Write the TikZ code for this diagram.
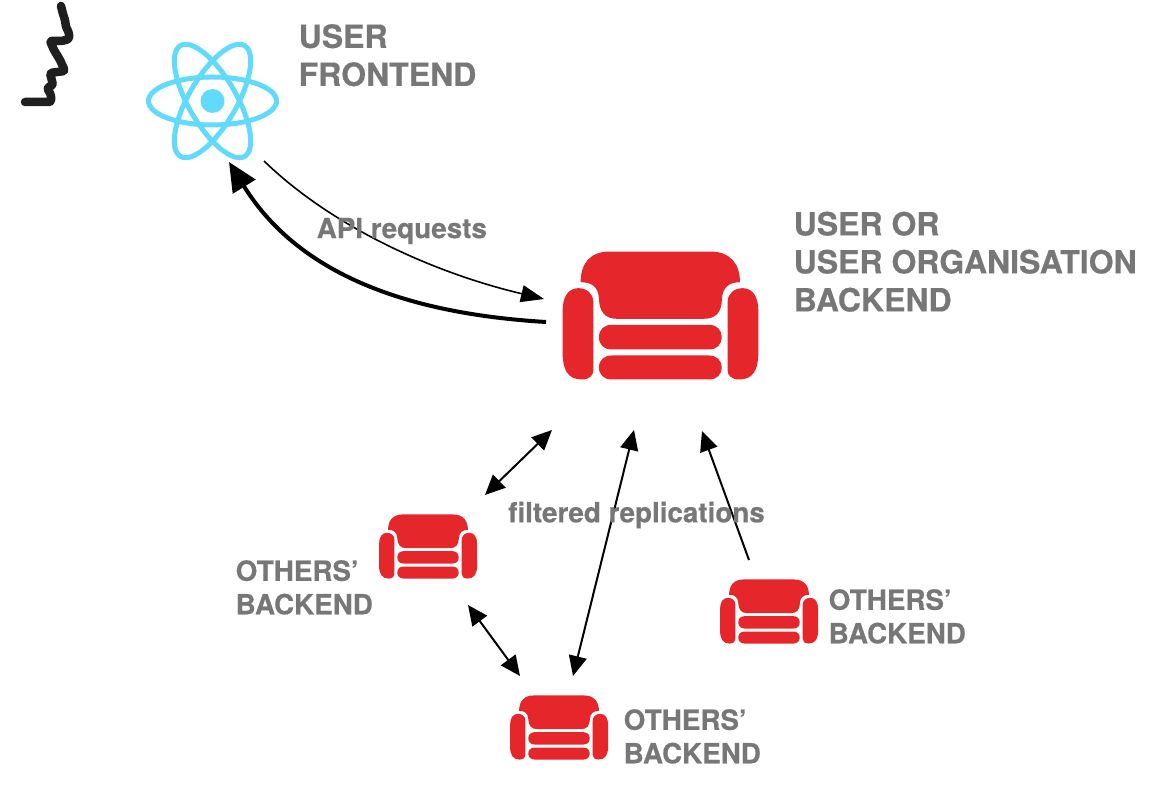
\documentclass[tikz,border=0pt]{standalone}
\usepackage{fontspec}
\setmainfont[BoldFeatures={FakeBold=0.5}]{TeX Gyre Heros}
\usetikzlibrary{arrows.meta}
\definecolor{couchred}{HTML}{E5262B}
\definecolor{reactblue}{HTML}{61DAFB}
\definecolor{labelgray}{HTML}{777777}
\tikzset{
  biglabel/.style={anchor=north west,align=left,inner sep=0pt,text=labelgray,font=\fontsize{32}{38}\selectfont\bfseries},
  smalllabel/.style={anchor=north west,align=left,inner sep=0pt,text=labelgray,font=\fontsize{27.8}{33.5}\selectfont\bfseries},
  midlabel/.style={anchor=west,inner sep=0pt,text=labelgray,font=\fontsize{27.8}{30}\selectfont\bfseries},
  thinarrow/.style={draw=black,line width=1.6pt,-{Triangle[length=23pt,width=17pt]}},
  thickarrow/.style={draw=black,line width=4pt,-{Triangle[length=29pt,width=26pt]}},
  replarrow/.style={draw=black,line width=2pt,{Triangle[length=20pt,width=18pt]}-{Triangle[length=20pt,width=18pt]}},
  replone/.style={draw=black,line width=2pt,-{Triangle[length=20pt,width=18pt]}},
  orbit/.style={draw=reactblue,line width=5pt},
  pics/couch/.style={code={
    \begin{scope}[shift={(-361,-256)}]
    \fill[couchred] (122,156) .. controls (122,100) and (150,64) .. (210,64)
      -- (510,64) .. controls (570,64) and (600,100) .. (600,156)
      .. controls (570,156) and (548,170) .. (546,205)
      .. controls (545,245) and (530,266) .. (490,266) -- (232,266)
      .. controls (195,266) and (178,245) .. (177,205)
      .. controls (175,170) and (155,156) .. (122,156) -- cycle;
    \fill[couchred] (177,321) .. controls (177,298) and (192,284) .. (215,284) -- (507,284)
      .. controls (530,284) and (545,298) .. (545,321)
      .. controls (545,344) and (530,358) .. (507,358) -- (215,358)
      .. controls (192,358) and (177,344) .. (177,321) -- cycle;
    \fill[couchred] (177,412) .. controls (177,390) and (192,376) .. (215,376) -- (507,376)
      .. controls (530,376) and (545,390) .. (545,412)
      .. controls (545,434) and (530,448) .. (507,448) -- (215,448)
      .. controls (192,448) and (177,434) .. (177,412) -- cycle;
    \fill[couchred] (115,174) .. controls (85,174) and (68,200) .. (68,240) -- (68,370)
      .. controls (68,420) and (85,448) .. (125,448)
      .. controls (150,448) and (160,435) .. (160,420) -- (160,215)
      .. controls (160,190) and (140,174) .. (115,174) -- cycle;
    \fill[couchred] (608,174) .. controls (638,174) and (655,200) .. (655,240) -- (655,370)
      .. controls (655,420) and (638,448) .. (598,448)
      .. controls (573,448) and (563,435) .. (563,420) -- (563,215)
      .. controls (563,190) and (583,174) .. (608,174) -- cycle;
    \end{scope}
  }},
}
\begin{document}
\begin{tikzpicture}[x=1pt,y=-1pt]
\useasboundingbox (0,0) rectangle (1154,786);
% scribble
\draw[black!88,line width=8.5pt,line cap=round,line join=round,rounded corners=1.5pt]
  (61,6) -- (63,14) -- (65,20) -- (66,27) -- (69,33) -- (69,39) -- (62,41) -- (50,41)
  -- (54,50) -- (60,60) -- (65,71) -- (57,72) -- (50,73) -- (53,85) -- (47,88)
  -- (51,95) -- (51,102) -- (38,102) -- (25,102);
% react logo
\coordinate (front) at (212.5,101);
\draw[orbit] (front) ellipse [x radius=64,y radius=24];
\draw[orbit,rotate around={60:(front)}] (front) ellipse [x radius=64,y radius=24];
\draw[orbit,rotate around={-60:(front)}] (front) ellipse [x radius=64,y radius=24];
\fill[reactblue] (front) circle (12);
% couches
\pic at (660.3,315.5) [scale=0.3333] {couch};
\pic at (428,546.5) [scale=0.167] {couch};
\pic at (769,611.5) [scale=0.167] {couch};
\pic at (559,727.5) [scale=0.167] {couch};
% connector ends
\coordinate (fa) at (264,161);
\coordinate (ba) at (544,299);
\coordinate (bb) at (546,322);
\coordinate (fb) at (229,162);
\coordinate (r1a) at (485,495);
\coordinate (r1b) at (552,430);
\coordinate (r2a) at (468,605);
\coordinate (r2b) at (520,676);
\coordinate (r3a) at (634,430);
\coordinate (r3b) at (573,676);
\coordinate (r4a) at (749,560);
\coordinate (r4b) at (702,431);
% connectors
\draw[thinarrow] (fa) .. controls (330,225) and (430,272) .. (ba);
\draw[thickarrow] (bb) .. controls (430,315) and (305,285) .. (fb);
\draw[replarrow] (r1a) -- (r1b);
\draw[replarrow] (r2a) -- (r2b);
\draw[replarrow] (r3a) -- (r3b);
\draw[replone] (r4a) -- (r4b);
% labels
\node[biglabel] (lfront) at (298.5,24) {USER\\FRONTEND};
\node[biglabel] (lback) at (793.5,211.5) {USER OR\\USER ORGANISATION\\BACKEND};
\node[smalllabel] (oa) at (235.5,560) {OTHERS’\\BACKEND};
\node[smalllabel] (ob) at (828.5,589) {OTHERS’\\BACKEND};
\node[smalllabel] (oc) at (623.5,709) {OTHERS’\\BACKEND};
\node[midlabel] (api) at (316.5,231) {API requests};
\node[midlabel] (repl) at (508,515) {filtered replications};
\end{tikzpicture}
\end{document}
